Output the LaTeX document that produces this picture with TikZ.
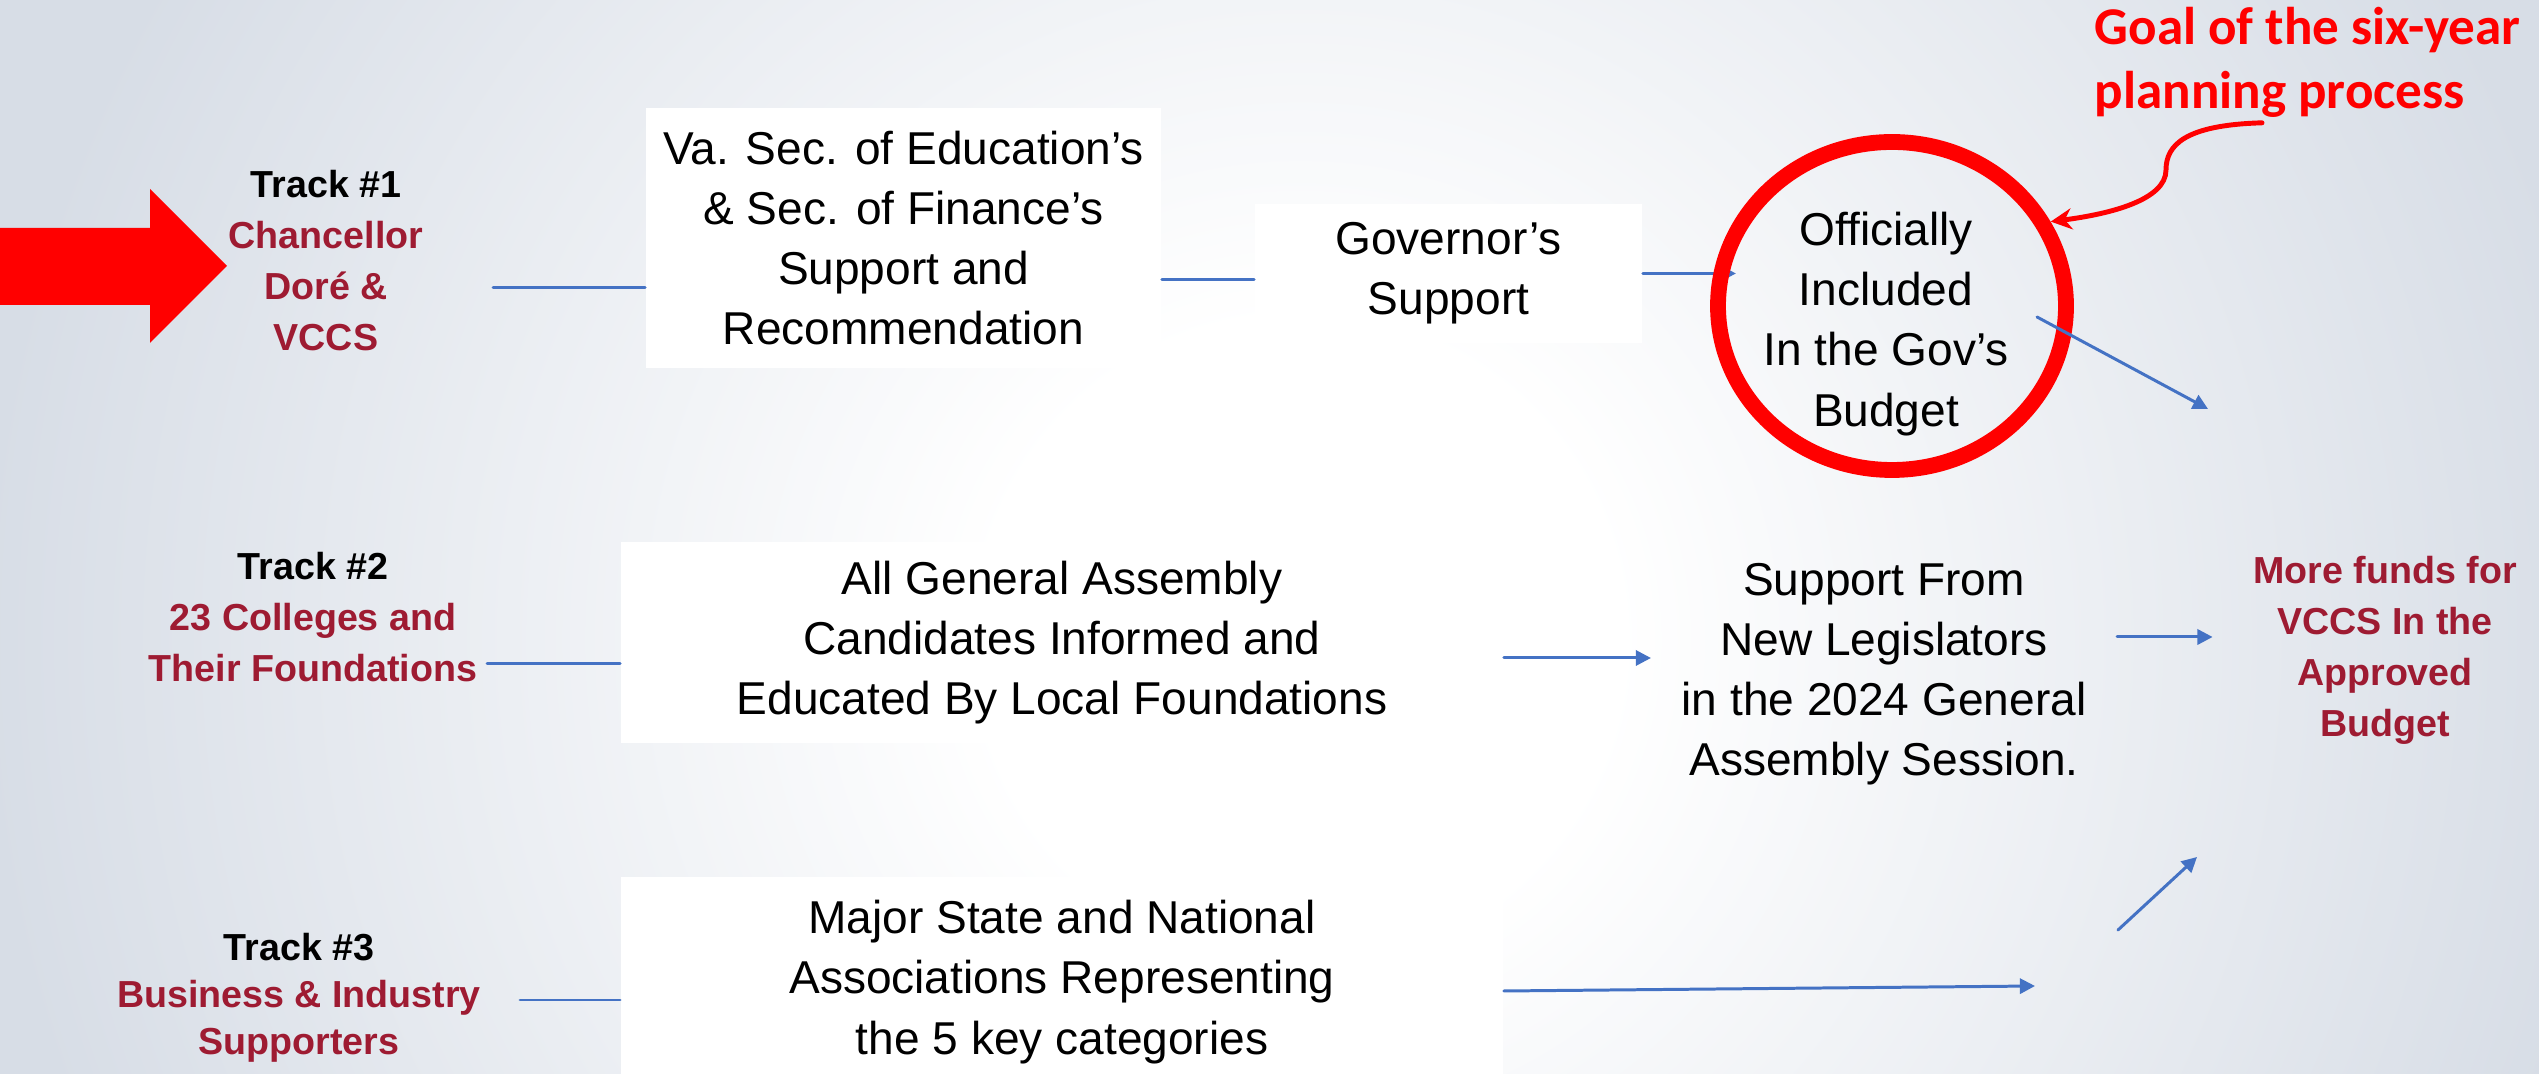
\documentclass[tikz,border=0pt]{standalone}
\usepackage{fontspec}
\setmainfont{Liberation Sans}
\newfontfamily\notefont{Carlito}
\usetikzlibrary{calc, arrows.meta, shapes.geometric}
\definecolor{bgedge}{RGB}{215,221,230}
\definecolor{trackred}{RGB}{158,27,50}
\definecolor{linkblue}{RGB}{68,114,196}
\pgfdeclareradialshading{bgglow}{\pgfpointorigin}{color(0bp)=(white); color(6bp)=(white); color(25bp)=(bgedge); color(50bp)=(bgedge)}

\begin{document}
\begin{tikzpicture}[x=0.01cm, y=-0.01cm, line cap=round, line join=round,
  box/.style={fill=white, inner sep=0pt, align=center, font=\fontsize{13.1}{17.1}\selectfont},
  txt/.style={inner sep=0pt, align=center, font=\fontsize{13.1}{17.1}\selectfont},
  track/.style={inner sep=0pt, align=center, text=trackred, font=\bfseries\fontsize{10.7}{14.5}\selectfont},
  link/.style={linkblue, line width=0.85pt},
  arr/.style={link, -{Triangle[length=4.3pt, width=4.3pt]}}]

% sfondo
\useasboundingbox (0,0) rectangle (2539,1074);
\clip (0,0) rectangle (2539,1074);
\fill[bgedge] (0,0) rectangle (2539,1074);
\shade[shading=bgglow] (1300,640) circle (1320);

% freccia rossa
\fill[red] (0,228) -- (150,228) -- (150,189) -- (227,266) -- (150,343) -- (150,305) -- (0,305) -- cycle;

% tracce
\node[track] (t1) at (326,261) {\textcolor{black}{Track \#1}\\Chancellor\\Doré \&\\VCCS};
\node[track] (t2) at (313,617) {\textcolor{black}{Track \#2}\\23 Colleges and\\Their Foundations};
\node[track, font=\bfseries\fontsize{10.7}{13.4}\selectfont] (t3) at (299,998) {\textcolor{black}{Track \#3}\\Business \& Industry\\Supporters};

% riquadri
\node[box, minimum width=5.15cm, minimum height=2.6cm] (vasec) at (903.5,238) {Va. Sec. of Education’s\\\& Sec. of Finance’s\\Support and\\Recommendation};
\node[box, minimum width=3.87cm, minimum height=1.39cm] (gov) at (1448.5,273.5) {Governor’s\\Support};
\node[box, minimum width=8.82cm, minimum height=2.01cm] (assemb) at (1062,642.5) {All General Assembly\\Candidates Informed and\\Educated By Local Foundations};
\node[box, minimum width=8.82cm, minimum height=2.1cm] (assoc) at (1062,982) {Major State and National\\Associations Representing\\the 5 key categories};

% obiettivo
\node[ellipse, minimum width=3.48cm, minimum height=3.28cm, inner sep=0pt, outer sep=0.08cm] (goal) at (1892,306) {};
\node[txt] (goaltxt) at (1886,324) {Officially\\Included\\In the Gov’s\\Budget};
\node[txt, inner xsep=0.3cm] (support) at (1884,674) {Support From\\New Legislators\\in the 2024 General\\Assembly Session.};
\node[track, inner xsep=0.4cm] (funds) at (2385,650) {More funds for\\VCCS In the\\Approved\\Budget};
\node[inner sep=0pt, align=left, anchor=west, text=red, font=\notefont\bfseries\fontsize{15.1}{18.2}\selectfont] (note) at (2094,62) {Goal of the six-year\\planning process};

% collegamenti
\coordinate (t1o) at (493,288);
\coordinate (t2o) at (487,664);
\coordinate (t3o) at (520,1000);
\coordinate (fA) at (2208,409);
\coordinate (fB) at (2035,986);
\coordinate (fC) at (2118,930);
\coordinate (fD) at (2197,857);
\draw[link] (t1o) -- (t1o -| vasec.west);
\draw[link] (t2o) -- (t2o -| assemb.west);
\draw[link] (t3o) -- (t3o -| assoc.west);
\draw[link] ($(vasec.east)+(0,42)$) -- ($(gov.west)+(0,6.5)$);
\draw[arr, shorten >=-0.26cm] (gov.east) -- (gov.east -| goal.west);
\draw[red, line width=4.5pt] (goal.center) ellipse [x radius=174, y radius=164];
\draw[arr] ($(goal.center)+(145,11)$) -- (fA);
\draw[arr] (assemb.east |- 0,658) -- (support.west |- 0,658);
\draw[arr] (support.east |- 0,637) -- (funds.west |- 0,637);
\draw[arr] (assoc.east |- 0,991) -- (fB);
\draw[arr] (fC) -- (fD);

% freccia curva
\draw[red, line width=1.4pt, -{Stealth[length=6pt, width=6pt]}] ($(note.south west)+(168,5)$) .. controls (2185,125) and (2166,145) .. (2166,170) .. controls (2166,200) and (2110,214) .. (goal.28);

\end{tikzpicture}
\end{document}
